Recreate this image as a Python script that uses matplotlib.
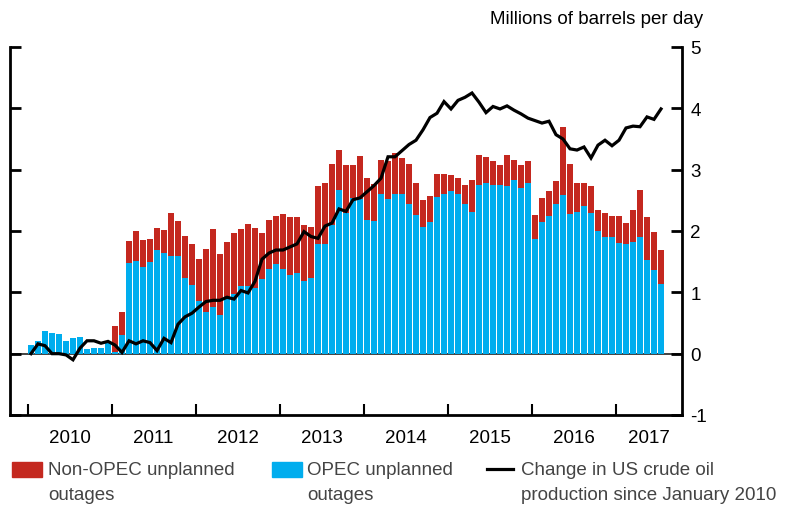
import matplotlib
matplotlib.use("Agg")
from matplotlib import pyplot as plt
from matplotlib.patches import Rectangle
from matplotlib.lines import Line2D
import numpy as np

plt.rcParams['font.family'] = ['Liberation Sans', 'DejaVu Sans']
plt.rcParams['axes.unicode_minus'] = False

# monthly data, Jan 2010 .. Jul 2017
opec = [0.14, 0.20, 0.37, 0.33, 0.32, 0.20, 0.25, 0.27, 0.07, 0.10, 0.10, 0.17,
        0.03, 0.30, 1.48, 1.51, 1.41, 1.49, 1.69, 1.64, 1.60, 1.60, 1.24, 1.12,
        0.86, 0.68, 0.76, 0.63, 0.92, 0.97, 1.10, 1.10, 1.07, 1.22, 1.38, 1.46,
        1.38, 1.28, 1.31, 1.18, 1.23, 1.79, 1.79, 2.10, 2.67, 2.29, 2.54, 2.52,
        2.18, 2.16, 2.61, 2.52, 2.61, 2.61, 2.44, 2.26, 2.06, 2.14, 2.55, 2.60,
        2.65, 2.60, 2.44, 2.31, 2.75, 2.78, 2.75, 2.75, 2.73, 2.83, 2.70, 2.78,
        1.87, 2.14, 2.24, 2.44, 2.58, 2.28, 2.31, 2.41, 2.29, 2.00, 1.90, 1.90,
        1.80, 1.79, 1.82, 1.90, 1.53, 1.36, 1.13]
non_opec = [0.00, 0.00, 0.00, 0.00, 0.00, 0.00, 0.00, 0.00, 0.00, 0.00, 0.00, 0.00,
            0.42, 0.38, 0.36, 0.49, 0.44, 0.38, 0.36, 0.38, 0.70, 0.57, 0.68, 0.67,
            0.69, 1.02, 1.27, 0.99, 0.90, 1.00, 0.93, 1.01, 0.98, 0.75, 0.80, 0.78,
            0.89, 0.95, 0.92, 0.92, 0.83, 0.94, 0.99, 0.99, 0.65, 0.79, 0.54, 0.70,
            0.68, 0.60, 0.55, 0.62, 0.66, 0.58, 0.65, 0.52, 0.44, 0.43, 0.38, 0.33,
            0.26, 0.26, 0.31, 0.52, 0.49, 0.42, 0.39, 0.33, 0.51, 0.33, 0.38, 0.36,
            0.39, 0.40, 0.41, 0.37, 1.11, 0.81, 0.47, 0.37, 0.44, 0.34, 0.39, 0.34,
            0.44, 0.34, 0.52, 0.77, 0.70, 0.62, 0.56]
us_change = [0.00, 0.16, 0.13, 0.00, 0.00, -0.02, -0.10, 0.09, 0.21, 0.21, 0.17, 0.20,
             0.14, 0.02, 0.21, 0.16, 0.21, 0.18, 0.05, 0.25, 0.18, 0.48, 0.60, 0.66,
             0.76, 0.85, 0.87, 0.87, 0.92, 0.89, 1.03, 0.99, 1.18, 1.54, 1.64, 1.69,
             1.69, 1.74, 1.79, 1.99, 1.91, 1.88, 2.08, 2.13, 2.36, 2.32, 2.51, 2.54,
             2.64, 2.74, 2.86, 3.21, 3.21, 3.31, 3.41, 3.48, 3.65, 3.85, 3.92, 4.11,
             3.99, 4.13, 4.18, 4.25, 4.10, 3.93, 4.03, 3.99, 4.04, 3.97, 3.91, 3.84,
             3.80, 3.76, 3.79, 3.57, 3.50, 3.34, 3.32, 3.37, 3.19, 3.40, 3.48, 3.39,
             3.48, 3.68, 3.71, 3.70, 3.86, 3.82, 3.99]
years = ['2010', '2011', '2012', '2013', '2014', '2015', '2016', '2017']

red = '#C4281F'
blue = '#00ADEE'

fig = plt.figure(figsize=(7.87, 5.06), dpi=100)
ax = fig.add_axes([10/787, 1 - 416/506, 672/787, 368/506])

x = np.arange(len(opec))
ax.axhline(0, color='#222222', lw=1.2, zorder=1)
ax.bar(x, opec, width=0.72, color=blue, zorder=2)
ax.bar(x, non_opec, width=0.72, bottom=opec, color=red, zorder=2)
ax.plot(x, us_change, color='black', lw=2.3, zorder=3, solid_joinstyle='miter')

ax.spines['top'].set_visible(False)
for s in ['left', 'right', 'bottom']:
    ax.spines[s].set_linewidth(2)

ax.yaxis.tick_right()
ax.set_yticks(range(-1, 6))
ax.tick_params(axis='y', which='both', direction='in', length=8, width=2,
               left=True, right=True, labelleft=False, labelright=True,
               labelsize=13.5, pad=6)

xmin, xmax = -3, 93
# year boundaries as ticks, labels centred in the visible part of each year
bounds = [-0.5 + 12 * k for k in range(len(years))]
ax.set_xticks(bounds)
ax.set_xticklabels([])
edges = bounds + [xmax]
label_pos = [(edges[k] + min(edges[k] + 12, edges[k + 1])) / 2 for k in range(len(years))]
ax.set_xticks(label_pos, minor=True)
ax.set_xticklabels(years, minor=True)
ax.tick_params(axis='x', which='major', direction='in', length=8, width=1.5)
ax.tick_params(axis='x', which='minor', length=0, labelsize=13.5, pad=10)

# limits last, set_xticks would widen them
ax.set_xlim(xmin, xmax)
ax.set_ylim(-1, 5)

fig.text(703/787, 1 - 20/506, 'Millions of barrels per day', ha='right', va='center',
         fontsize=13.5)

# legend
fig.add_artist(Rectangle((12/787, 1 - 478/506), 30/787, 15/506,
                         transform=fig.transFigure, color=red))
fig.add_artist(Rectangle((272/787, 1 - 478/506), 30/787, 15/506,
                         transform=fig.transFigure, color=blue))
fig.add_artist(Line2D([487/787, 513/787], [1 - 470/506, 1 - 470/506],
                      transform=fig.transFigure, color='black', lw=2.3))
fig.text(48/787, 1 - 483/506, 'Non-OPEC unplanned\noutages', fontsize=13.5,
         color='#444444', va='center', linespacing=1.6)
fig.text(307/787, 1 - 483/506, 'OPEC unplanned\noutages', fontsize=13.5,
         color='#444444', va='center', linespacing=1.6)
fig.text(521/787, 1 - 483/506, 'Change in US crude oil\nproduction since January 2010',
         fontsize=13.5, color='#444444', va='center', linespacing=1.6)

fig.savefig('out.png', dpi=100)
